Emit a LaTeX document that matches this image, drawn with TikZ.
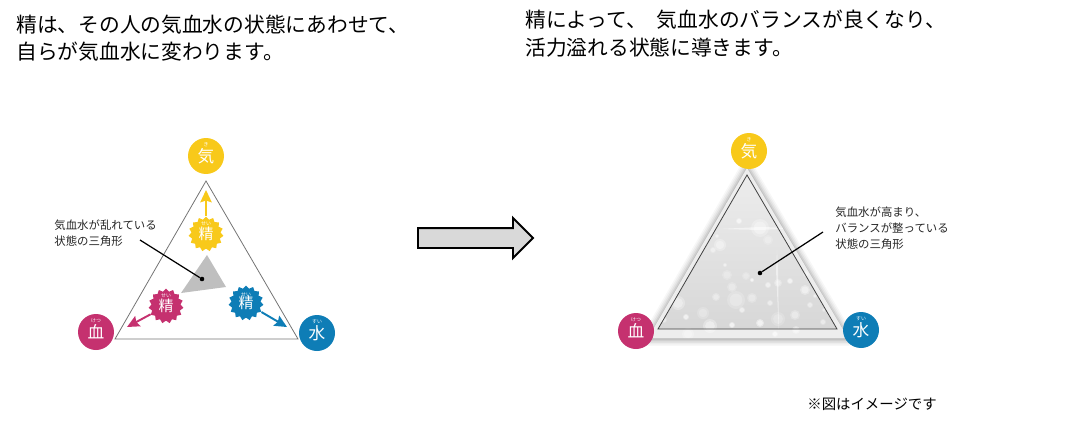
\documentclass[tikz,border=0pt]{standalone}
\usepackage{fontspec}
\setmainfont{Noto Sans CJK JP}
\usepackage{xcolor}
\usetikzlibrary{arrows.meta,shapes.geometric,shapes.arrows}
\definecolor{kiyellow}{HTML}{F8C91A}
\definecolor{ketsured}{HTML}{C5316F}
\definecolor{suiblue}{HTML}{0E7DB6}

\begin{document}
\begin{tikzpicture}[
  x=0.02cm, y=-0.02cm,
  title/.style={anchor=west, inner sep=0pt, font=\fontsize{11.8}{11.8}\selectfont},
  small/.style={anchor=west, inner sep=0pt, font=\fontsize{6.5}{6.5}\selectfont, text=black!85},
  circ/.style={circle, minimum size=0.72cm, inner sep=0pt, text=white, font=\fontsize{9.5}{9.5}\selectfont},
  burst/.style={star, star points=15, star point ratio=1.2, minimum size=0.7cm, inner sep=0pt, text=white, font=\fontsize{8.5}{8.5}\selectfont},
  ruby/.style={inner sep=0pt, text=white, font=\fontsize{2.8}{2.8}\selectfont},
  tri/.style={draw=black!55, line width=0.45pt, line join=miter},
  arr/.style={-{Stealth[length=7pt,width=6.5pt,inset=1pt]}, line width=1.1pt},
  lead/.style={draw=black, line width=0.7pt},
  dot/.style={circle, fill=black, minimum size=2.6pt, inner sep=0pt},
]
\useasboundingbox (0,0) rectangle (1070,426);

% headings
\node[title] (headla) at (16,25) {精は、その人の気血水の状態にあわせて、};
\node[title] (headlb) at (16,52) {自らが気血水に変わります。};
\node[title] (headra) at (525,20) {精によって、\hspace{3pt} 気血水のバランスが良くなり、};
\node[title] (headrb) at (525,48) {活力溢れる状態に導きます。};

% left triangle
\draw[tri] (206,181) -- (298,339) -- (115,339) -- cycle;
\fill[black!25] (207,255) -- (226,287) -- (181,293) -- cycle;

\node[circ, fill=kiyellow] (ki) at (206,156) {気};
\node[circ, fill=ketsured] (ketsu) at (96,332) {血};
\node[circ, fill=suiblue] (sui) at (317,333) {水};
\node[ruby] at (206,145) {き};
\node[ruby] at (96,321) {けつ};
\node[ruby] at (317,322) {すい};

\node[burst, fill=kiyellow] (seiki) at (206,234) {精};
\node[burst, fill=ketsured] (seiketsu) at (166,306) {精};
\node[burst, fill=suiblue] (seisui) at (246,303) {精};
\node[ruby] at (206,224) {せい};
\node[ruby] at (166,296) {せい};
\node[ruby] at (246,295) {せい};

\coordinate (tipki) at (206,190);
\coordinate (tipketsu) at (127,327);
\coordinate (tipsui) at (287,327);
\draw[arr, kiyellow] (seiki) -- (tipki);
\draw[arr, ketsured] (seiketsu) -- (tipketsu);
\draw[arr, suiblue] (seisui) -- (tipsui);

\node[small] (labla) at (54,225) {気血水が乱れている};
\node[small] (lablb) at (54,241) {状態の三角形};
\coordinate (leadl) at (140,240);
\node[dot] (dotl) at (202,279) {};
\draw[lead] (leadl) -- (dotl);

% block arrow
\node[single arrow, draw=black, line width=1.1pt, fill=black!15, anchor=tail,
  minimum height=2.3cm, minimum width=0.76cm, inner xsep=0pt, inner ysep=0.18cm,
  single arrow head extend=0.2cm, single arrow head indent=0pt] (bigarrow) at (417,238) {};

% right triangle
\foreach \w/\o in {14/0.03,11/0.04,8/0.05,5/0.07,2/0.08}{
  \draw[black, opacity=\o, line width=\w*0.567pt, line join=round]
    (747,168) -- (848,339) -- (648,339) -- cycle;
}
\fill[black!7] (747,168) -- (848,338) -- (648,338) -- cycle;
\begin{scope}
\clip (747,175) -- (837,329) -- (658,329) -- cycle;
\shade[top color=black!7, bottom color=black!16] (640,170) rectangle (855,335);
\end{scope}
\begin{scope}
\clip (747,168) -- (848,338) -- (648,338) -- cycle;
\foreach \cx/\cy/\r/\o in {
  720/245/6/0.55, 739/221/3/0.7, 717/236/2/0.6, 760/228/9/0.5, 768/240/5/0.35,
  746/276/4/0.35, 727/275/5/0.35, 713/250/3/0.5, 725/265/2/0.6, 752/280/2/0.9,
  778/283/4/0.5, 790/281/3/0.7, 805/290/5/0.6, 768/285/3/0.6, 732/287/5/0.4,
  736/300/9/0.35, 752/298/5/0.4, 716/297/4/0.45, 678/303/7/0.55, 686/317/3/0.7,
  703/313/6/0.35, 710/326/7/0.6, 732/325/3/0.8, 760/323/4/0.8, 778/319/7/0.35,
  795/315/5/0.45, 810/305/3/0.5, 796/330/4/0.6, 650/333/5/0.5, 688/334/6/0.45,
  742/310/3/0.6, 770/303/3/0.5, 823/322/3/0.5, 824/310/2/0.5, 725/203/2/0.6,
  696/236/3/0.5, 806/274/3/0.5, 815/296/2/0.6, 664/320/3/0.5, 775/334/3/0.7}{
  \fill[white, opacity=\o*0.5] (\cx,\cy) circle (\r);
  \fill[white, opacity=\o*0.6] (\cx,\cy) circle (\r*0.7);
}
\fill[white, opacity=0.5] (718,229) -- (760,227) -- (800,228) -- (760,230) -- cycle;
\fill[white, opacity=0.5] (777,250) -- (778,270) -- (779,335) -- (776,270) -- cycle;
\end{scope}
\draw[tri, draw=black!75] (747,175) -- (837,329) -- (658,329) -- cycle;

\node[circ, fill=kiyellow] (rki) at (749,151) {気};
\node[circ, fill=ketsured] (rketsu) at (636,331) {血};
\node[circ, fill=suiblue] (rsui) at (861,330) {水};
\node[ruby] at (749,140) {き};
\node[ruby] at (636,320) {けつ};
\node[ruby] at (861,319) {すい};

\node[small] (labra) at (835,212) {気血水が高まり、};
\node[small] (labrb) at (835,228) {バランスが整っている};
\node[small] (labrc) at (835,244) {状態の三角形};
\coordinate (leadr) at (823,232);
\node[dot] (dotr) at (760,273) {};
\draw[lead] (leadr) -- (dotr);

% note
\node[small, font=\fontsize{8.2}{8.2}\selectfont, text=black] (note) at (807,404) {※図はイメージです};
\end{tikzpicture}
\end{document}
